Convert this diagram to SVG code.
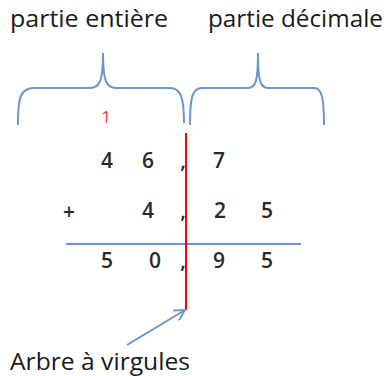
<svg xmlns="http://www.w3.org/2000/svg" width="386" height="376" viewBox="0 0 386 376">
<style>
.lbl{font-family:"Open Sans","Liberation Sans",sans-serif;fill:#1a1a1a;}
.dig{font-family:"Open Sans","Liberation Sans",sans-serif;font-size:21px;font-weight:600;fill:#2a2a2a;text-anchor:middle;}
.brace{fill:none;stroke:#6a96cc;stroke-width:2;}
.blue{stroke:#6a96cc;stroke-width:2;fill:none;}
</style>
<defs>
<marker id="ah" viewBox="0 0 12 12" refX="11" refY="6" markerWidth="12" markerHeight="12" markerUnits="userSpaceOnUse" orient="auto">
<path d="M0,0 L11,6 L0,12" fill="none" stroke="#6a96cc" stroke-width="1.8"/>
</marker>
</defs>
<rect width="386" height="376" fill="#fff"/>
<g id="label-entiere"><text class="lbl" x="10" y="27" font-size="23" textLength="158" lengthAdjust="spacingAndGlyphs">partie entière</text></g>
<g id="label-decimale"><text class="lbl" x="208" y="27" font-size="23" textLength="175" lengthAdjust="spacingAndGlyphs">partie décimale</text></g>
<g id="brace-left"><path class="brace" d="M18,125 C18,98 20,88 34,88 L90,88 C100,88 103,80 103,53 C103,80 106,88 116,88 L170,88 C181,88 184,98 184,123"/></g>
<g id="brace-right"><path class="brace" d="M190,125 C190,98 192,88 202,88 L248,88 C256,88 258,80 258,53 C258,80 260,88 268,88 L314,88 C322,88 324,98 324,125"/></g>
<g id="carry"><text x="106" y="123" font-family="Open Sans, Liberation Sans, sans-serif" font-size="17" fill="#ff3333" text-anchor="middle">1</text></g>
<g id="row1">
<text class="dig" x="107" y="168">4</text>
<text class="dig" x="148" y="168">6</text>
<text class="dig" x="183" y="168">,</text>
<text class="dig" x="219" y="168">7</text>
</g>
<g id="row2">
<text class="dig" x="69" y="219" font-size="28">+</text>
<text class="dig" x="148" y="218">4</text>
<text class="dig" x="183" y="218">,</text>
<text class="dig" x="220" y="218">2</text>
<text class="dig" x="267" y="218">5</text>
</g>
<g id="row3">
<text class="dig" x="107" y="268">5</text>
<text class="dig" x="155" y="268">0</text>
<text class="dig" x="183" y="268">,</text>
<text class="dig" x="219" y="268">9</text>
<text class="dig" x="267" y="268">5</text>
</g>
<g id="connectors">
<line class="blue" x1="66" y1="244" x2="301" y2="244"/>
<line x1="186" y1="133" x2="186" y2="310" stroke="#ff0000" stroke-width="2"/>
<line class="blue" x1="127" y1="345" x2="185" y2="310" marker-end="url(#ah)"/>
</g>
<g id="label-arbre"><text class="lbl" x="10" y="370" font-size="23" textLength="180" lengthAdjust="spacingAndGlyphs">Arbre à virgules</text></g>
</svg>
